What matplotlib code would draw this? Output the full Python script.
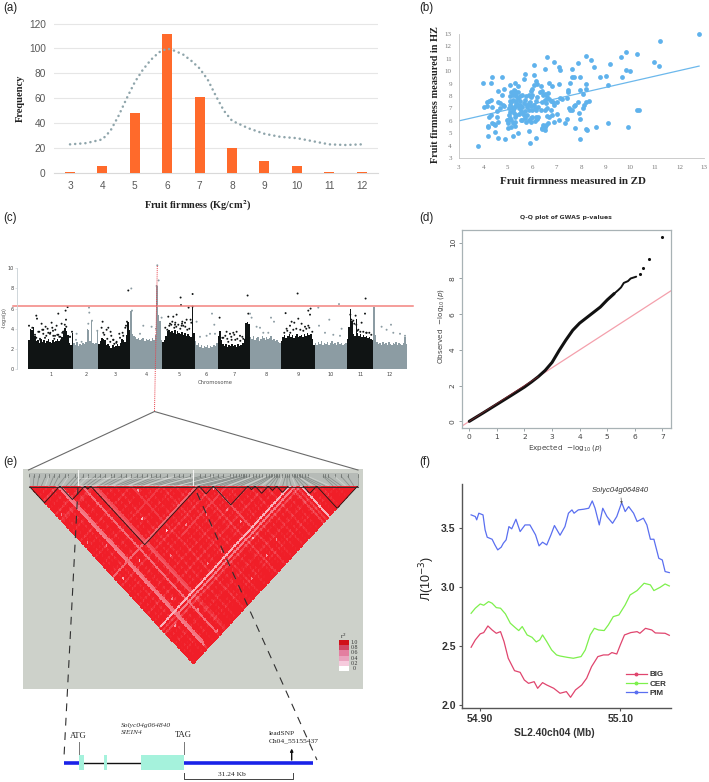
#!/usr/bin/env python3
import numpy as np
import matplotlib
matplotlib.use("Agg")
import matplotlib.pyplot as plt
from matplotlib.colors import LinearSegmentedColormap
from matplotlib.lines import Line2D

W, H = 709, 782
SERIF = "Liberation Serif"
SANS = "Liberation Sans"

# (a) histogram
firmness_bins = [3, 4, 5, 6, 7, 8, 9, 10, 11, 12]
firmness_freq = [1, 6, 48, 112, 61, 20, 10, 6, 1, 1]
trend_x = [3, 3.5, 4, 4.25, 4.5, 4.75, 5, 5.25, 5.5, 5.75, 6, 6.25, 6.5, 6.75, 7, 7.25, 7.5, 7.75, 8,
           8.5, 9, 9.5, 10, 10.5, 11, 11.5, 12]
trend_y = [23, 24, 27, 34, 46, 60, 73, 83, 91, 97, 100, 98, 95, 90, 84, 75, 62, 50, 42,
           36, 31.5, 29, 28, 25.5, 23, 22.5, 23]

# (b) scatter, firmness ZD vs HZ
zd_hz = [
    (3.8, 4.0), (12.8, 13.0), (11.2, 12.4), (4.0, 9.05), (4.35, 9.5), (4.3, 9.05), (4.75, 9.55), (5.1, 8.9),
    (5.3, 9.05), (5.4, 8.8), (5.65, 9.4), (5.7, 9.75), (6.05, 9.65), (6.05, 10.45), (6.15, 9.2), (6.2, 9.0),
    (6.5, 10.15), (6.6, 11.1), (6.7, 9.05), (6.8, 8.8), (6.9, 10.7), (7.1, 10.35), (7.15, 10.1), (7.1, 9.0),
    (7.6, 10.2), (7.55, 9.05), (7.6, 9.5), (7.7, 9.5), (7.85, 10.65), (7.95, 9.5), (8.2, 11.25), (8.4, 10.85),
    (8.5, 10.3), (8.2, 8.95), (8.2, 8.6), (7.95, 8.5), (8.05, 8.2), (8.75, 9.5), (9.0, 9.6), (9.1, 8.85),
    (9.15, 10.6), (9.6, 11.15), (9.8, 11.5), (9.65, 9.5), (9.8, 10.1), (10.0, 10.0), (10.25, 11.4), (10.95, 10.7),
    (11.15, 10.4), (10.25, 6.85), (10.35, 6.85), (9.9, 5.55), (9.1, 5.8), (8.6, 5.5), (8.2, 5.35), (8.25, 5.3),
    (7.95, 4.55), (7.95, 6.15), (7.9, 6.65), (8.05, 7.0), (8.1, 7.3), (8.2, 7.55), (8.3, 7.6), (7.75, 7.3),
    (7.85, 7.5), (7.7, 7.2), (7.6, 6.85), (7.5, 7.0), (7.55, 6.9), (7.45, 8.3), (7.45, 8.5), (7.4, 7.8),
    (7.15, 7.85), (7.2, 7.75), (7.75, 5.45), (7.35, 5.8), (7.4, 6.15), (7.1, 6.1), (7.0, 6.55), (6.9, 5.95),
    (5.9, 4.2), (6.15, 4.6), (5.85, 5.2), (5.2, 4.8), (5.4, 5.0), (4.9, 4.55), (4.6, 4.65), (4.2, 4.75),
    (4.5, 5.15), (4.2, 5.5), (4.2, 5.6), (4.05, 7.1), (4.15, 7.2), (4.15, 7.5), (4.25, 7.6), (4.3, 7.7),
    (4.35, 7.15), (4.3, 6.5), (4.25, 6.3), (4.35, 5.85), (4.45, 5.75), (4.5, 5.65), (4.6, 5.9), (4.55, 6.3),
    (4.55, 6.8), (4.7, 7.0), (4.6, 7.55), (4.7, 7.4), (4.8, 7.3), (4.85, 7.2), (4.6, 8.4), (4.75, 8.1),
    (4.85, 8.55), (5.0, 6.05), (5.0, 5.85), (5.0, 5.4), (5.1, 6.25), (5.15, 5.55), (5.2, 5.8), (5.3, 5.6),
    (5.3, 5.95), (5.3, 6.3), (5.35, 6.5), (5.1, 6.7), (5.2, 6.9), (5.25, 7.05), (5.3, 7.2), (5.35, 7.45),
    (5.1, 7.3), (5.15, 7.55), (5.2, 7.7), (5.1, 8.0), (5.15, 8.3), (5.25, 8.45), (5.3, 8.2), (5.35, 8.0),
    (5.4, 7.8), (5.5, 7.6), (5.5, 7.3), (5.45, 7.0), (5.55, 6.8), (5.6, 7.15), (5.65, 7.45), (5.7, 7.7),
    (5.75, 8.0), (5.6, 8.1), (5.5, 8.0), (5.85, 8.1), (5.95, 7.9), (6.0, 8.1), (5.95, 8.4), (6.0, 8.6),
    (6.05, 8.85), (5.9, 7.5), (5.95, 7.2), (5.8, 7.1), (5.85, 6.9), (6.0, 6.85), (6.1, 7.0), (6.05, 7.3),
    (6.15, 7.6), (6.2, 7.9), (6.3, 8.3), (6.35, 8.8), (6.4, 8.4), (6.45, 8.1), (5.6, 6.1), (5.7, 6.2),
    (5.75, 5.95), (5.85, 6.05), (5.95, 6.2), (6.0, 6.35), (6.1, 6.0), (6.15, 6.3), (6.2, 6.15), (6.25, 6.35),
    (6.35, 6.9), (5.95, 5.9), (5.65, 6.45), (5.8, 6.45), (6.4, 7.5), (6.5, 7.65), (6.55, 7.4), (6.6, 7.9),
    (6.7, 7.75), (6.65, 8.25), (6.5, 8.15), (6.75, 7.6), (6.85, 7.5), (6.9, 7.3), (7.0, 7.5), (6.6, 7.0),
    (6.5, 6.85), (6.75, 6.9), (6.6, 6.4), (6.7, 6.3), (6.8, 6.45), (6.65, 5.85), (6.45, 5.7), (6.4, 5.35),
    (6.5, 5.3), (6.5, 5.55), (6.55, 5.65), (6.4, 5.45), (5.05, 7.05), (5.15, 7.1), (5.25, 6.6), (5.35, 7.6),
    (5.4, 7.25), (5.45, 6.55), (5.55, 6.05), (5.6, 6.65), (5.7, 6.8), (5.8, 7.3), (5.85, 7.4), (5.05, 6.5),
    (4.95, 6.1), (5.15, 6.1), (5.1, 7.6), (5.2, 8.1), (5.3, 8.4), (6.15, 6.9), (6.25, 7.1), (5.4, 8.35),
]
fit_x = [3, 12.8]
fit_y = [6.0, 10.4]

# (c) manhattan: chromosome lengths, top of the dense part per window, single points
chrom_len = [45, 25, 32, 32, 32.3, 23, 32, 31.3, 33.7, 32, 26.7, 34]
chrom_ticks = [23, 58, 86.7, 118.3, 150.7, 178.3, 205.7, 237.7, 270, 302.7, 332.3, 361.7]
dense_top = [
    [2.9, 4.0, 3.9, 4.2, 3.3, 2.8, 2.9, 2.6, 3.0, 2.7, 2.9, 2.6, 2.8, 3.0, 2.7, 2.6, 2.9, 2.7, 2.8, 3.0, 2.8, 2.9, 3.2, 3.6, 4.1, 3.8, 3.4, 2.6, 2.4, 3.6],
    [2.6, 2.4, 2.7, 2.3, 2.5, 2.4, 2.6, 2.5, 2.7, 4.0, 3.9, 2.8, 4.8, 2.6, 2.5, 2.6, 3.8],
    [2.5, 2.8, 3.1, 3.0, 2.9, 2.4, 2.5, 2.3, 2.1, 2.4, 2.2, 2.3, 2.5, 2.3, 2.6, 3.0, 2.9, 2.7, 3.4, 4.7, 3.9],
    [5.8, 3.5, 3.3, 3.2, 3.0, 3.1, 2.9, 3.0, 3.1, 2.8, 3.0, 2.9, 3.0, 2.8, 3.1, 2.9, 3.4, 8.2, 5.4, 4.8, 2.9],
    [2.7, 2.9, 3.3, 3.8, 3.9, 3.7, 3.8, 3.6, 3.9, 3.5, 3.8, 3.6, 3.5, 3.7, 3.4, 3.6, 3.3, 3.5, 3.3, 3.2, 6.2, 3.6],
    [2.8, 2.4, 2.6, 2.2, 2.4, 2.1, 2.3, 2.2, 2.4, 2.1, 2.3, 2.2, 2.4, 2.3, 2.6],
    [3.3, 3.8, 2.9, 2.5, 2.3, 2.5, 2.2, 2.4, 2.3, 2.5, 2.3, 2.4, 2.2, 2.5, 2.3, 2.4, 2.6, 3.0, 4.6, 4.7, 4.5],
    [3.2, 3.0, 3.3, 2.9, 3.1, 3.2, 2.8, 3.0, 3.3, 3.1, 2.9, 3.2, 3.0, 3.1, 3.3, 2.9, 3.0, 2.8, 2.9, 2.7, 2.6],
    [2.8, 3.2, 3.4, 3.1, 3.3, 3.5, 3.2, 3.4, 3.1, 3.3, 3.5, 3.2, 3.3, 3.4, 3.2, 3.5, 3.3, 3.6, 3.4, 3.5, 3.0, 2.4],
    [2.6, 2.4, 2.7, 2.5, 2.8, 2.4, 2.6, 2.5, 2.7, 2.4, 2.6, 2.8, 2.5, 2.6, 2.4, 2.7, 2.5, 2.6, 2.4, 2.5, 2.6],
    [3.0, 4.2, 6.0, 4.8, 3.5, 3.3, 5.0, 3.6, 3.3, 3.5, 3.2, 3.4, 3.2, 3.3, 3.1, 3.2, 3.0, 2.9],
    [6.2, 3.4, 2.7, 2.5, 2.6, 2.4, 2.7, 2.5, 2.6, 2.4, 2.7, 2.5, 2.4, 2.6, 2.5, 2.7, 2.4, 2.6, 2.5, 2.4, 2.6, 3.2, 2.5],
]
peak_pos = [0.7, 4, 8, 8.7, 11, 13.3, 15, 17.3, 19.3, 21.7, 23.3, 28.3, 30, 25, 26.7, 33.3, 31, 37.7, 35, 37.3, 39.3, 41.7, 6.7, 11.7, 16.7,
            20, 24.7, 30, 35, 41.7, 43.7, 60.7, 61, 60, 63.7, 69, 48.3, 47.7, 53.3, 74.3, 73.3, 80, 82.3, 75, 78.3, 85, 88.3, 100,
            98.7, 97.7, 94.3, 91.7, 103, 103.7, 115, 123.3, 127.7, 111.7, 128.3, 133.3, 140, 141.7, 145, 148.3, 152.3, 152.7, 153.7,
            160.3, 164.3, 164.3, 158.3, 162.3, 153.3, 156.7, 146.7, 183.7, 186, 168.3, 178.3, 181.7, 171.7, 186.7, 191.3, 219.3,
            220, 221.7, 198.3, 201.7, 205, 208.3, 211.7, 215, 195, 203.3, 242.7, 245.7, 223.3, 228.3, 231.7, 240, 235, 257.3, 269.3,
            263.3, 266, 270, 273.3, 280, 281.7, 282.3, 258.3, 261.7, 276.7, 280, 310.7, 290, 301, 290.7, 313.3, 296.7, 305, 311.7,
            337.3, 336.7, 333.3, 327.3, 325, 330, 338.3, 353.3, 362.7, 358.3, 365, 371.7, 376.7, 129, 130.3,
            8, 12, 15, 18, 22, 26, 29, 32, 36.5, 38, 24, 27, 14, 10, 33, 34,
            76, 79, 82, 85, 88, 91, 95, 97, 83, 86,
            137, 141, 143, 146, 148, 150, 152, 155, 157, 159, 161, 144, 139, 147, 154, 163,
            194, 197, 199, 203, 206, 209, 212, 214, 207, 200,
            256, 259, 262, 265, 268, 272, 275, 278, 281, 284,
            329, 332, 335, 338, 341, 343, 323, 322, 328, 326]
peak_val = [4.3, 4.1, 5.3, 5.0, 3.7, 4.5, 3.9, 4.2, 4.0, 3.5, 4.6, 4.3, 5.5, 3.3, 3.3, 4.5, 3.2, 4.9, 3.7, 5.8, 6.15, 3.2, 3.4, 3.0, 3.1,
            3.6, 3.8, 3.4, 3.7, 3.2, 3.7, 6.1, 5.6, 4.5, 4.8, 3.8, 3.5, 2.9, 2.7, 4.7, 4.1, 4.1, 3.7, 3.6, 3.9, 2.9, 2.7, 7.8,
            4.7, 4.3, 3.6, 3.1, 8.0, 5.8, 4.3, 4.2, 4.0, 3.5, 8.25, 5.1, 5.2, 4.5, 5.2, 5.4, 7.1, 6.35, 4.5, 6.1, 7.45, 6.2, 4.9, 4.9,
            4.3, 4.6, 4.4, 5.5, 4.4, 4.7, 3.3, 3.5, 3.2, 3.5, 5.1, 7.3, 5.5, 5.5, 3.7, 3.5, 3.6, 3.7, 3.3, 3.0, 3.1, 2.9, 5.1, 4.7,
            5.1, 4.2, 4.1, 3.6, 3.6, 5.55, 7.5, 4.7, 4.6, 5.0, 4.5, 5.8, 5.4, 6.0, 4.0, 4.3, 4.2, 4.3, 6.45, 6.1, 4.9, 4.3, 4.0,
            3.6, 3.4, 3.3, 7.0, 5.5, 4.6, 5.3, 4.8, 3.9, 3.6, 4.2, 4.4, 3.9, 3.6, 3.5, 3.3, 10.3, 8.8,
            3.1, 2.9, 3.5, 3.3, 3.6, 3.0, 3.4, 3.2, 4.4, 4.2, 4.1, 3.9, 3.9, 3.7, 2.9, 3.6,
            3.4, 3.0, 2.7, 2.9, 2.6, 3.5, 3.3, 4.1, 3.3, 2.5,
            4.1, 4.3, 4.4, 4.1, 4.2, 4.4, 4.0, 4.3, 4.2, 3.9, 4.0, 4.7, 3.9, 4.6, 4.7, 4.6,
            3.1, 3.3, 3.0, 3.2, 3.4, 3.0, 2.8, 3.2, 2.9, 2.7,
            3.6, 3.8, 3.6, 3.9, 4.0, 3.9, 3.8, 4.0, 4.1, 3.7,
            3.8, 3.7, 3.7, 3.6, 3.6, 3.4, 4.9, 5.4, 4.4, 4.5]
threshold = 6.3

# (d) Q-Q plot
qq_expected = [0, 0.5, 1, 1.5, 2, 2.25, 2.5, 2.75, 3, 3.25, 3.5, 3.75, 4, 4.25, 4.5, 4.75, 5, 5.25]
qq_observed = [0, 0.47, 0.95, 1.43, 1.92, 2.2, 2.5, 2.85, 3.3, 3.95, 4.55, 5.1, 5.5, 5.8, 6.1, 6.4, 6.8, 7.15]
qq_tail_x = [5.25, 5.4, 5.5, 5.6, 5.75, 5.85, 6.05]
qq_tail_y = [7.15, 7.35, 7.5, 7.75, 7.85, 8.0, 8.1]
qq_top_x = [6.18, 6.3, 6.53, 7.0]
qq_top_y = [8.25, 8.6, 9.1, 10.3]

# (e) LD heat map, per SNP loss of r2, low LD lines and spots
snp_loss = [
    .02, .05, .01, .08, .03, .06, .02, .10, .04, .03, .16, .02, .07, .01, .05, .09, .03, .02, .06, .14,
    .04, .02, .08, .15, .12, .03, .06, .01, .09, .04, .02, .11, .05, .03, .07, .02, .04, .13, .03, .08,
    .02, .06, .10, .01, .05, .03, .09, .04, .12, .02, .07, .03, .05, .11, .02, .08, .04, .03, .06, .10,
    .05, .15, .02, .07, .04, .09, .03, .14, .05, .02, .08, .03, .11, .04, .06, .02, .10, .03, .07, .05,
    .12, .02, .04, .09, .03, .06, .13, .02, .05, .08, .03, .10, .04, .02, .07, .18, .05, .16, .03, .18,
    .06, .02, .09, .04, .03, .07, .11, .02, .05, .03, .08, .04, .10, .02, .06, .03, .05, .02, .04, .01,
]
low_first = [10, 19, 23, 24, 37, 67, 99, 11]     # SNP whose line runs down to the right
low_first_end = [118, 118, 96, 96, 60, 96, 120, 117]
low_first_r2 = [.62, .66, .72, .76, .8, .74, .42, .65]
low_last = [95, 97, 61, 48, 72]                  # SNP whose line runs down to the left
low_last_start = [1, 12, 0, 30, 40]
low_last_r2 = [.42, .62, .68, .8, .78]
spot_i = [65, 64, 3, 15, 35, 63, 64, 66, 39, 38, 2, 2, 20, 20, 6, 55, 48, 28, 30, 72, 8, 14, 44, 50]
spot_j = [89, 99, 65, 65, 65, 110, 80, 68, 91, 41, 21, 40, 103, 117, 100, 74, 92, 75, 52, 108, 48, 90, 70, 112]
spot_r2 = [.5, .4, .45, .4, .3, .5, .6, .4, .6, .5, .6, .6, .6, .6, .5, .6, .65, .6, .4, .55, .6, .6, .6, .6]
block_start = [0, 11.3, 20.4, 22.5, 62, 67.3, 80, 82.5, 87.4, 90.4, 100, 105]
block_end = [11.3, 20.4, 22.5, 62, 67.3, 80, 82.5, 87.4, 90.4, 94.7, 105, 120]
snp_phys = [.0, .015, .03, .05, .06, .075, .09, .11, .12, .14, .15, .165, .18, .2, .215, .23, .25, .26, .28, .295,
            .31, .33, .345, .36, .37, .385, .4, .42, .44, .455, .47, .49, .5, .52, .535, .55, .56, .575, .59, .61,
            .62, .63, .64, .645, .65, .655, .66, .67, .68, .69, .7, .71, .72, .73, .735, .74, .745, .75, .755, .76,
            .77, .78, .785, .79, .8, .805, .81, .815, .82, .825, .83, .84, .85, .895, .9, .91, .93, .95, .97, 1.0]
legend_r2 = [1.0, 0.8, 0.6, 0.4, 0.2, 0]
legend_cols = ["#D01018", "#D24562", "#E37FA0", "#EAA4BF", "#F6CBDD", "#FFFFFF"]

# (f) nucleotide diversity
pim_x = [54.887, 54.893, 54.895, 54.898, 54.904, 54.907, 54.910, 54.917, 54.921, 54.925, 54.930, 54.933, 54.937,
         54.941, 54.945, 54.951, 54.957, 54.964, 54.971, 54.979, 54.984, 54.989, 54.995, 55.001, 55.006, 55.014,
         55.021, 55.026, 55.031, 55.034, 55.040, 55.048, 55.055, 55.060, 55.064, 55.070, 55.075, 55.081, 55.089,
         55.095, 55.102, 55.107, 55.112, 55.119, 55.124, 55.133, 55.138, 55.143, 55.148, 55.155, 55.160, 55.164, 55.170]
pim_y = [3.607, 3.593, 3.565, 3.621, 3.607, 3.48, 3.418, 3.401, 3.353, 3.311, 3.334, 3.367, 3.396,
         3.508, 3.489, 3.570, 3.466, 3.522, 3.522, 3.438, 3.345, 3.376, 3.353, 3.438, 3.517, 3.435,
         3.508, 3.621, 3.649, 3.621, 3.649, 3.655, 3.663, 3.725, 3.663, 3.522, 3.663, 3.593, 3.536,
         3.593, 3.711, 3.635, 3.677, 3.621, 3.551, 3.579, 3.522, 3.401, 3.401, 3.240, 3.226, 3.128, 3.119]
cer_x = [54.887, 54.893, 54.900, 54.905, 54.912, 54.917, 54.923, 54.929, 54.936, 54.943, 54.950, 54.955, 54.960,
         54.967, 54.974, 54.980, 54.985, 54.989, 54.995, 55.002, 55.009, 55.014, 55.024, 55.033, 55.044, 55.050,
         55.057, 55.063, 55.069, 55.077, 55.083, 55.090, 55.098, 55.107, 55.114, 55.124, 55.134, 55.143, 55.148,
         55.157, 55.164, 55.170]
cer_y = [2.775, 2.818, 2.854, 2.843, 2.874, 2.860, 2.823, 2.818, 2.770, 2.691, 2.654, 2.629, 2.663,
         2.592, 2.572, 2.533, 2.550, 2.592, 2.536, 2.465, 2.423, 2.414, 2.403, 2.395, 2.409, 2.465,
         2.592, 2.648, 2.634, 2.629, 2.677, 2.747, 2.761, 2.846, 2.930, 2.967, 3.029, 3.015, 2.967,
         2.995, 3.023, 3.006]
big_x = [54.887, 54.893, 54.900, 54.905, 54.911, 54.917, 54.923, 54.929, 54.934, 54.940, 54.949, 54.957, 54.963,
         54.969, 54.977, 54.982, 54.989, 54.995, 55.005, 55.014, 55.023, 55.029, 55.036, 55.045, 55.052, 55.059,
         55.068, 55.076, 55.083, 55.088, 55.095, 55.100, 55.106, 55.115, 55.124, 55.128, 55.136, 55.145, 55.150,
         55.164, 55.170]
big_y = [2.488, 2.550, 2.601, 2.612, 2.668, 2.634, 2.606, 2.620, 2.536, 2.395, 2.290, 2.276, 2.211,
         2.183, 2.197, 2.141, 2.189, 2.169, 2.141, 2.099, 2.113, 2.065, 2.127, 2.169, 2.226, 2.324,
         2.409, 2.423, 2.423, 2.443, 2.431, 2.507, 2.592, 2.612, 2.620, 2.606, 2.648, 2.634, 2.609,
         2.606, 2.589]

# gene model under (e), pixel scale of the overlay
exon_start = [79, 104, 140.7]
exon_end = [84, 107.3, 183.7]
utr_start = [64, 183.7]
utr_end = [78.7, 313.3]


def ax_px(fig, x0, y0, x1, y1):
    """Axes from pixel box, y measured from the top"""
    return fig.add_axes([x0 / W, 1 - y1 / H, (x1 - x0) / W, (y1 - y0) / H])


def plot_hist(fig):
    ax = ax_px(fig, 54, 15, 378, 173)
    ax.set_xlim(2.506, 12.506)
    ax.set_ylim(0, 126.9)
    ax.bar(firmness_bins, firmness_freq, width=0.31, color="#FF6A2B", zorder=3)
    ax.plot(trend_x, trend_y, color="#8FA5AB", lw=1.8, ls=(0, (0.05, 2.0)), dash_capstyle="round", zorder=4)
    ax.set_yticks(range(0, 121, 20))
    ax.set_xticks(firmness_bins)
    ax.grid(axis="y", color="#E6E6E6", lw=0.8)
    ax.set_axisbelow(True)
    for s in ["top", "left", "right"]:
        ax.spines[s].set_visible(False)
    ax.spines["bottom"].set_color("#D9D9D9")
    ax.tick_params(length=0, labelsize=7.3, labelcolor="#595959", pad=6)
    for t in ax.get_xticklabels() + ax.get_yticklabels():
        t.set_family(SANS)
    fig.text(20 / W, 1 - 98.7 / H, "Frequency", rotation=90, family=SERIF, weight="bold", size=7.6,
             ha="center", va="center", color="#222222")
    fig.text(198 / W, 1 - 206 / H, "Fruit firmness (Kg/cm$^{\\mathbf{2}}$)", family=SERIF, weight="bold", size=7.4,
             ha="center", va="center", color="#222222", math_fontfamily="stix")


def plot_scatter(fig):
    ax = ax_px(fig, 458.7, 33.7, 704, 158.3)
    ax.set_xlim(3, 13)
    ax.set_ylim(3, 13)
    xs = [p[0] for p in zd_hz]
    ys = [p[1] for p in zd_hz]
    ax.plot(fit_x, fit_y, color="#6CB8EC", lw=0.9)
    ax.scatter(xs, ys, s=12, color="#5FB2EC", linewidths=0, clip_on=False, zorder=3)
    ax.set_xticks(range(3, 14))
    ax.set_yticks(range(3, 14))
    for s in ["top", "right"]:
        ax.spines[s].set_visible(False)
    for s in ["left", "bottom"]:
        ax.spines[s].set_color("#C4C4C4")
        ax.spines[s].set_linewidth(0.6)
    ax.tick_params(length=0, labelsize=5, labelcolor="#777777", pad=5)
    for t in ax.get_xticklabels() + ax.get_yticklabels():
        t.set_family(SERIF)
    fig.text(572.7 / W, 1 - 182 / H, "Fruit firmness measured in ZD", family=SERIF, weight="bold", size=7.9,
             ha="center", va="center", color="#222222")
    fig.text(435 / W, 1 - 95 / H, "Fruit firmness measured in HZ", rotation=90, family=SERIF, weight="bold", size=7.4,
             ha="center", va="center", color="#222222")


def plot_manhattan(fig):
    ax = ax_px(fig, 17.3, 262, 413.3, 369)
    ax.set_xlim(-11, 385)
    ax.set_ylim(0, 10.63)
    cols = ["#101414", "#8C9CA3"]
    edges = np.cumsum([0] + chrom_len)
    for k, tops in enumerate(dense_top):
        windows = np.linspace(edges[k], edges[k + 1], len(tops) + 1)
        ax.stairs(tops, windows, baseline=0, fill=True, color=cols[k % 2], lw=0)
    pos = np.array(peak_pos)
    val = np.array(peak_val)
    idx = np.clip(np.searchsorted(edges, pos) - 1, 0, 11)
    ax.scatter(pos, val, s=2, c=[cols[i % 2] for i in idx], linewidths=0, clip_on=False)
    ax.plot([-15, 385], [threshold, threshold], color="#F2837F", lw=1.1, clip_on=False)
    ax.set_xticks(chrom_ticks)
    ax.set_xticklabels(range(1, 13))
    ax.set_yticks(range(0, 11, 2))
    for s in ["top", "right", "bottom"]:
        ax.spines[s].set_visible(False)
    ax.spines["left"].set_bounds(0, 10)
    ax.spines["left"].set_color("#C8D0D4")
    ax.spines["left"].set_linewidth(0.6)
    ax.tick_params(axis="y", length=1.5, width=0.4, color="#C8D0D4", labelsize=3.6, labelcolor="#444444", pad=1)
    ax.tick_params(axis="x", length=0, labelsize=3.6, labelcolor="#444444", pad=2.5)
    ax.set_xlabel("Chromosome", fontsize=3.8, color="#555555", labelpad=1.5)
    fig.text(4.5 / W, 1 - 318 / H, "-log$_{10}$(p)", rotation=90, size=3.5, color="#444444", ha="center", va="center")


def plot_qq(fig):
    ax = ax_px(fig, 461.7, 229.7, 670.7, 428.3)
    ax.set_xlim(-0.275, 7.3)
    ax.set_ylim(-0.39, 10.73)
    ax.plot([-0.39, 7.3], [-0.39, 7.3], color="#F4A0AC", lw=0.9, zorder=1)
    ax.plot(qq_expected, qq_observed, color="#111111", lw=2.2, solid_capstyle="round", zorder=2)
    ax.plot(qq_tail_x, qq_tail_y, color="#111111", lw=1.4, solid_capstyle="round", zorder=2)
    ax.plot([0, 2.5], [0, 2.5], color="#7A2A30", lw=0.5, zorder=3)
    ax.scatter(qq_top_x, qq_top_y, s=5, color="#111111", linewidths=0, zorder=3)
    ax.set_xticks(range(0, 8))
    ax.set_yticks(range(0, 11, 2))
    for s in ax.spines.values():
        s.set_color("#A8B2B5")
        s.set_linewidth(0.9)
    ax.tick_params(length=2.2, width=0.6, color="#8A9498", labelsize=5.4, labelcolor="#444444", pad=2)
    for t in ax.get_yticklabels():
        t.set_rotation(90)
        t.set_va("center")
    fig.text(566 / W, 1 - 448 / H, r"Expected  $-\log_{10}(p)$", size=5.2, color="#444444", ha="center", va="center")
    fig.text(440.7 / W, 1 - 326 / H, r"Observed  $-\log_{10}(p)$", size=5.2, color="#444444", rotation=90,
             ha="center", va="center")
    fig.text(566 / W, 1 - 217 / H, "Q-Q plot of GWAS p-values", size=4.4, weight="bold", color="#333333",
             ha="center", va="center")


def plot_ld(fig):
    """Triangle heat map drawn with rotated cell corners"""
    n = len(snp_loss)
    loss = np.array(snp_loss)
    m = 1 - loss[:, None] - loss[None, :]
    for i, end, r in zip(low_first, low_first_end, low_first_r2):
        m[i, i:min(end, n)] = r
    for j, begin, r in zip(low_last, low_last_start, low_last_r2):
        m[begin:j + 1, j] = r
    for i, j, r in zip(spot_i, spot_j, spot_r2):
        m[i, j] = r
    m = np.ma.masked_where(np.tril(np.ones((n, n), dtype=bool), -1), m)
    ii, jj = np.meshgrid(np.arange(n + 1), np.arange(n + 1), indexing="ij")
    ax = ax_px(fig, 29, 486, 357.7, 664.3)
    ax.set_xlim(0, n)
    ax.set_ylim(n / 2, 0)
    ax.axis("off")
    ax.patch.set_alpha(0)
    cmap = LinearSegmentedColormap.from_list("ld", ["#FFFFFF", "#FBD0DA", "#F58A96", "#F01E28"])
    ax.pcolormesh((ii + jj) / 2, (jj - ii) / 2, m, cmap=cmap, vmin=0, vmax=0.88, shading="flat", antialiased=False)
    for a, b in zip(block_start, block_end):
        ax.plot([a, (a + b) / 2, b], [0, (b - a) / 2, 0], color="#2A1A1A", lw=0.65, solid_joinstyle="miter")
    ax.axhline(0.25, color="#2A2A2A", lw=0.6, clip_on=False)


def draw_overlay(fig):
    """Everything given in page pixels: frames, guides, gene model, labels"""
    ov = fig.add_axes([0, 0, 1, 1], zorder=-1)
    ov.set_xlim(0, W)
    ov.set_ylim(H, 0)
    ov.axis("off")
    ov.add_patch(plt.Rectangle((22.7, 469.3), 340.6, 220, color="#CDD1CA", lw=0))
    ov.add_patch(plt.Rectangle((29, 473), 328.7, 12.5, color="#B6BBB7", lw=0))

    top = fig.add_axes([0, 0, 1, 1], zorder=10)
    top.set_xlim(0, W)
    top.set_ylim(H, 0)
    top.axis("off")
    top.patch.set_alpha(0)

    # SNP position strip
    for k, p in enumerate(snp_phys):
        x_top = 29 + 328.7 * p
        x_bot = 29 + 328.7 * k / (len(snp_phys) - 1)
        top.plot([x_top, x_top], [473.5, 476.5], color="#5E6360", lw=0.5)
        shade = "#6F7673" if k % 4 else "#DDE0DD"
        top.plot([x_top, x_bot], [476.5, 485.5], color=shade, lw=0.6, alpha=0.6)
    for x in [77.5, 192.5]:
        top.plot([x, x], [469.5, 485], color="#F4F5F3", lw=0.8)
    top.plot([77.5, 192.5], [477.5, 477.5], color="#F4F5F3", lw=0.4, alpha=0.6)
    top.plot([77.5, 192.5], [485, 485], color="#F4F5F3", lw=0.4, alpha=0.6)

    # link from the manhattan peak to the LD block
    top.plot([157.3, 154.5], [266, 411], color="#E8404A", lw=0.7, ls=(0, (1, 1)))
    top.plot([28.5, 154.5, 358], [470, 411.5, 470], color="#6A6A6A", lw=0.8)
    top.plot([78, 64], [487, 757], color="#303030", lw=0.8, ls=(0, (7, 6)))
    top.plot([197, 317], [493, 760], color="#303030", lw=0.8, ls=(0, (7, 6)))

    # r2 key
    for k, c in enumerate(legend_cols):
        top.add_patch(plt.Rectangle((339, 640 + k * 5.17), 9.7, 5.17, color=c, lw=0))
        label = f"{legend_r2[k]:.1f}" if legend_r2[k] else "0"
        top.text(354.5, 642.6 + k * 5.17, label, family=SERIF, size=4.2, ha="center", va="center", color="#333333")
    top.text(343.5, 636, "r$^2$", family=SERIF, size=4.2, ha="center", va="center", color="#333333")

    # gene model
    y = 762.7
    top.plot([84, 140.7], [y, y], color="#111111", lw=1.0, zorder=2)
    for a, b in zip(utr_start, utr_end):
        top.plot([a, b], [y, y], color="#1A22E8", lw=2.6, solid_capstyle="butt", zorder=3)
    for a, b in zip(exon_start, exon_end):
        top.add_patch(plt.Rectangle((a, 755), b - a, 15, color="#A5F2DC", lw=0, zorder=4))
    top.plot([79, 79], [741.5, 754], color="#777777", lw=0.7)
    top.plot([183.7, 183.7], [741.5, 754], color="#777777", lw=0.7)
    top.text(78, 735.7, "ATG", family=SERIF, size=6.2, ha="center", va="center", color="#222222")
    top.text(183.7, 735.3, "TAG", family=SERIF, size=6.2, ha="center", va="center", color="#222222")
    top.text(121, 725, "Solyc04g064840", family=SERIF, style="italic", size=5.4, va="center", color="#333333")
    top.text(121, 732.5, "SlEIN4", family=SERIF, style="italic", size=5.4, va="center", color="#333333")
    top.text(268.7, 733.7, "leadSNP", family=SERIF, size=5.4, va="center", color="#222222")
    top.text(268.7, 741.3, "Ch04_55155437", family=SERIF, size=5.4, va="center", color="#222222")
    top.annotate("", xy=(291.7, 748.5), xytext=(291.7, 760),
                 arrowprops=dict(arrowstyle="-|>", color="#111111", lw=1.0, mutation_scale=4, shrinkA=0, shrinkB=0))
    top.plot([183.7, 183.7, 292.7, 292.7], [773, 779, 779, 773], color="#444444", lw=0.7)
    top.text(231.7, 774.4, "31.24 Kb", family=SERIF, size=5.4, ha="center", va="center", color="#222222")

    for label, x, y_lab in [("(a)", 3, 8), ("(b)", 419, 7.5), ("(c)", 3, 218), ("(d)", 419, 217.5),
                            ("(e)", 3, 462.5), ("(f)", 419, 462.5)]:
        top.text(x, y_lab, label, family=SANS, size=8.3, va="center", color="#222222")


def plot_diversity(fig):
    ax = ax_px(fig, 462, 484, 670.7, 707.7)
    ax.set_xlim(54.874, 55.172)
    ax.set_ylim(1.977, 3.868)
    ax.plot(big_x, big_y, color="#E0456E", lw=0.9)
    ax.plot(cer_x, cer_y, color="#7DF04C", lw=0.9)
    ax.plot(pim_x, pim_y, color="#5A6FF0", lw=0.9)
    ax.set_xticks([54.90, 55.10])
    ax.set_xticklabels(["54.90", "55.10"])
    ax.set_yticks([2.0, 2.5, 3.0, 3.5])
    for s in ["top", "right"]:
        ax.spines[s].set_visible(False)
    for s in ["left", "bottom"]:
        ax.spines[s].set_color("#555555")
        ax.spines[s].set_linewidth(1.0)
    ax.tick_params(length=2.5, width=0.8, color="#555555", labelsize=7.6, labelcolor="#333333", pad=2)
    for t in ax.get_xticklabels() + ax.get_yticklabels():
        t.set_family(SANS)
        t.set_weight("bold")
    handles = [Line2D([], [], color=c, lw=0.9, marker="o", markersize=1.8, label=n)
               for c, n in [("#E0456E", "BIG"), ("#7DF04C", "CER"), ("#5A6FF0", "PIM")]]
    ax.legend(handles=handles, frameon=False, numpoints=1, loc="lower right", bbox_to_anchor=(1.0, 0.03),
              prop={"family": SANS, "weight": "bold", "size": 5.8}, labelspacing=0.2, handlelength=2.6,
              handletextpad=0.4, borderpad=0, labelcolor="#333333")
    ax.annotate("Solyc04g064840", xy=(55.102, 3.70), xytext=(55.10, 3.815), family=SANS, style="italic", size=5.5,
                ha="center", va="center", color="#333333",
                arrowprops=dict(arrowstyle="-|>", color="#555555", lw=0.5, mutation_scale=3, shrinkA=1, shrinkB=0))
    fig.text(554 / W, 1 - 732.7 / H, "SL2.40ch04 (Mb)", family=SANS, weight="bold", size=7.4, color="#333333",
             ha="center", va="center")
    fig.text(427 / W, 1 - 578 / H, "Л(10$^{-3}$)", family=SANS, size=9, color="#222222", rotation=90,
             ha="center", va="center")


def main():
    fig = plt.figure(figsize=(W / 100, H / 100), dpi=100)
    plot_hist(fig)
    plot_scatter(fig)
    plot_manhattan(fig)
    plot_qq(fig)
    plot_ld(fig)
    plot_diversity(fig)
    draw_overlay(fig)
    fig.savefig("out.png", dpi=100)


if __name__ == "__main__":
    main()
